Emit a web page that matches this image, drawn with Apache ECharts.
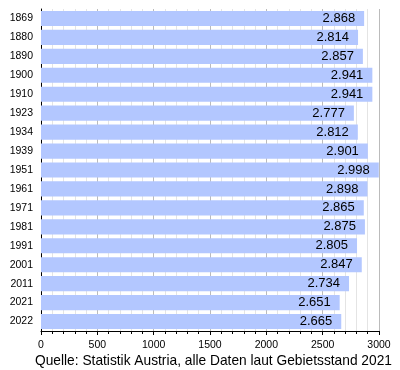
<!DOCTYPE html>
<html><head><meta charset="utf-8">
<script src="https://cdn.jsdelivr.net/npm/echarts@6/dist/echarts.min.js"></script>
<style>html,body{margin:0;padding:0;background:#fff}#c{width:400px;height:370px}</style>
</head><body><div id="c"></div>
<script>
const years = ['1869','1880','1890','1900','1910','1923','1934','1939','1951','1961','1971','1981','1991','2001','2011','2021','2022'];
const population = [2868,2814,2857,2941,2941,2777,2812,2901,2998,2898,2865,2875,2805,2847,2734,2651,2665];
const xTicks = [0,500,1000,1500,2000,2500,3000];
const source = 'Quelle: Statistik Austria, alle Daten laut Gebietsstand 2021';

const fmt = v => { const s = String(v); return s.length > 3 ? s.slice(0, s.length-3) + '.' + s.slice(-3) : s; };
const font = '"Liberation Sans", Arial, sans-serif';
const chart = echarts.init(document.getElementById('c'), null, {renderer:'canvas'});
chart.setOption({
  animation: false,
  textStyle: {fontFamily: font},
  title: {text: source, left: 35, top: 354, padding: 0, textStyle: {fontFamily: font, fontSize: 13.75, fontWeight: 'normal', color: '#000'}},
  grid: {left: 41, right: 21, top: 9, bottom: 39, containLabel: false},
  xAxis: {
    type: 'value', min: xTicks[0], max: xTicks[xTicks.length-1], interval: 500,
    axisLine: {show: true, lineStyle: {color: '#000', width: 1}},
    axisTick: {show: true, length: 4, lineStyle: {color: '#000'}},
    minorTick: {show: true, splitNumber: 5, length: 3, lineStyle: {color: '#000'}},
    splitLine: {show: true, lineStyle: {color: '#bbb', width: 1}},
    minorSplitLine: {show: true, lineStyle: {color: '#e4e4e4', width: 1}},
    axisLabel: {color: '#000', fontSize: 10.5, margin: 9, formatter: v => String(v)}
  },
  yAxis: {
    type: 'category', data: years, inverse: true,
    axisLine: {show: true, lineStyle: {color: '#000', width: 1}},
    axisTick: {show: false},
    axisLabel: {color: '#000', fontSize: 10.5, margin: 8}
  },
  series: [{
    type: 'bar', data: population, barCategoryGap: '20%',
    itemStyle: {color: '#b3c7ff'},
    label: {show: true, position: 'insideRight', distance: 9, color: '#000', fontSize: 13, formatter: p => fmt(p.value)}
  }]
});
</script></body></html>
